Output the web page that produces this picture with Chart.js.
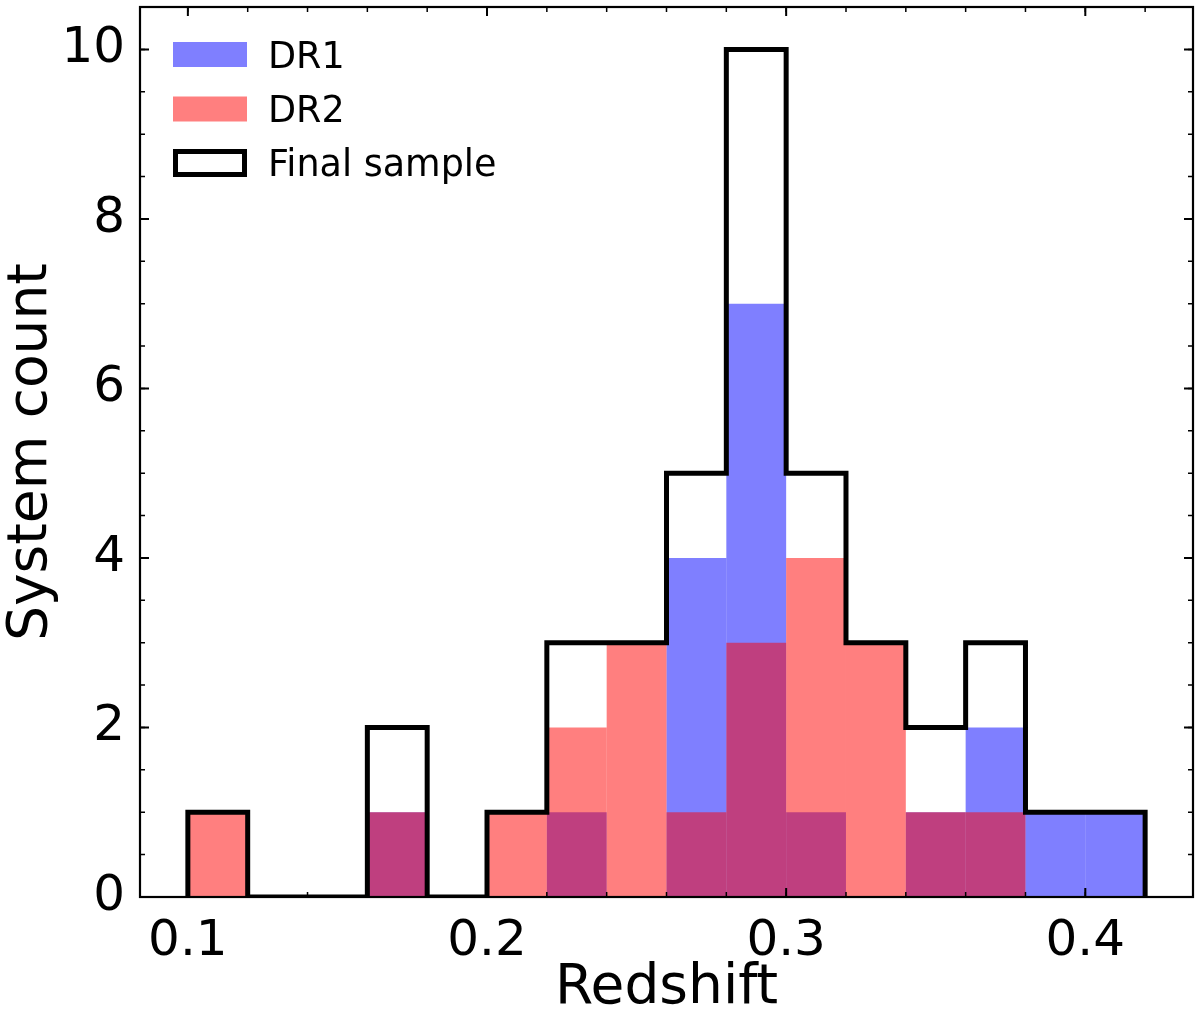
<!DOCTYPE html>
<html>
<head>
<meta charset="utf-8">
<title>Redshift histogram</title>
<script src="https://cdn.jsdelivr.net/npm/chart.js@4.4.0/dist/chart.umd.min.js"></script>
<style>
    html, body { margin: 0; padding: 0; background: #ffffff; }
    #wrap { width: 1200px; height: 1013px; position: relative; }
</style>
</head>
<body>
<div id="wrap"><canvas id="grafico"></canvas></div>
<script>
// Dados do histograma (bins de 0.02)
const binEdges = [0.10, 0.12, 0.14, 0.16, 0.18, 0.20, 0.22, 0.24, 0.26, 0.28, 0.30, 0.32, 0.34, 0.36, 0.38, 0.40, 0.42];
const dr1Counts = [0, 0, 0, 1, 0, 0, 1, 0, 4, 7, 1, 0, 1, 2, 1, 1];
const dr2Counts = [1, 0, 0, 1, 0, 1, 2, 3, 1, 3, 4, 3, 1, 1, 0, 0];
const finalCounts = [1, 0, 0, 2, 0, 1, 3, 3, 5, 10, 5, 3, 2, 3, 1, 1];
const xTicks = [0.1, 0.2, 0.3, 0.4];
const yTicks = [0, 2, 4, 6, 8, 10];
const legendLabels = ['DR1', 'DR2', 'Final sample'];

const corDR1 = 'rgba(0, 0, 255, 0.5)';
const corDR2 = 'rgba(255, 0, 0, 0.5)';
const fonte = "'DejaVu Sans', sans-serif";

// Barras: centro de cada bin
function barras(contagens) {
    const pts = [];
    for (let i = 0; i < contagens.length; i++) {
        pts.push({ x: (binEdges[i] + binEdges[i + 1]) / 2, y: contagens[i] });
    }
    return pts;
}

// Contorno em degraus (histtype='step')
function degraus(contagens) {
    const pts = [{ x: binEdges[0], y: 0 }];
    for (let i = 0; i < contagens.length; i++) {
        pts.push({ x: binEdges[i], y: contagens[i] });
        pts.push({ x: binEdges[i + 1], y: contagens[i] });
    }
    pts.push({ x: binEdges[binEdges.length - 1], y: 0 });
    return pts;
}

// Ticks para dentro nos quatro lados + moldura + legenda
const eixosPlugin = {
    id: 'eixos',
    afterDatasetsDraw(chart) {
        const ctx = chart.ctx;
        const a = chart.chartArea;
        const sx = chart.scales.x;
        const sy = chart.scales.y;
        ctx.save();
        ctx.strokeStyle = '#000';

        const tickX = (v, len, w) => {
            const p = sx.getPixelForValue(v);
            if (p < a.left || p > a.right) return;
            ctx.lineWidth = w;
            ctx.beginPath();
            ctx.moveTo(p, a.bottom); ctx.lineTo(p, a.bottom - len);
            ctx.moveTo(p, a.top); ctx.lineTo(p, a.top + len);
            ctx.stroke();
        };
        const tickY = (v, len, w) => {
            const p = sy.getPixelForValue(v);
            if (p < a.top - 0.5 || p > a.bottom + 0.5) return;
            ctx.lineWidth = w;
            ctx.beginPath();
            ctx.moveTo(a.left, p); ctx.lineTo(a.left + len, p);
            ctx.moveTo(a.right, p); ctx.lineTo(a.right - len, p);
            ctx.stroke();
        };

        // minor ticks
        for (let k = 4; k <= 22; k++) tickX(k * 0.02, 5, 1.5);
        for (let k = 0; k <= 21; k++) tickY(k * 0.5, 5, 1.5);
        // major ticks
        xTicks.forEach(v => tickX(v, 9, 2));
        yTicks.forEach(v => tickY(v, 9, 2));

        // moldura
        ctx.lineWidth = 2.2;
        ctx.strokeRect(a.left, a.top, a.right - a.left, a.bottom - a.top);

        // legenda
        const lx = a.left + 33;
        const tx = a.left + 128;
        const linhas = [a.top + 47.5, a.top + 102, a.top + 156];
        ctx.font = '36.5px ' + fonte;
        ctx.textAlign = 'left';
        ctx.textBaseline = 'alphabetic';
        ctx.fillStyle = corDR1;
        ctx.fillRect(lx, linhas[0] - 12.5, 74, 25);
        ctx.fillStyle = corDR2;
        ctx.fillRect(lx, linhas[1] - 12.5, 74, 25);
        ctx.lineWidth = 5;
        ctx.lineJoin = 'miter';
        ctx.strokeRect(lx + 2.5, linhas[2] - 11.5, 69, 23);
        ctx.fillStyle = '#000';
        legendLabels.forEach((t, i) => ctx.fillText(t, tx, linhas[i] + 13));
        ctx.restore();
    }
};

const ctx = document.getElementById('grafico').getContext('2d');
new Chart(ctx, {
    type: 'bar',
    data: {
        datasets: [
            {
                label: legendLabels[0],
                data: barras(dr1Counts),
                backgroundColor: corDR1,
                borderWidth: 0,
                inflateAmount: 0,
                grouped: false,
                barPercentage: 1,
                categoryPercentage: 1,
                order: 3
            },
            {
                label: legendLabels[1],
                data: barras(dr2Counts),
                backgroundColor: corDR2,
                borderWidth: 0,
                inflateAmount: 0,
                grouped: false,
                barPercentage: 1,
                categoryPercentage: 1,
                order: 2
            },
            {
                type: 'line',
                label: legendLabels[2],
                data: degraus(finalCounts),
                borderColor: '#000',
                borderWidth: 5,
                borderJoinStyle: 'miter',
                borderCapStyle: 'butt',
                fill: false,
                tension: 0,
                pointRadius: 0,
                clip: 0,
                order: 1
            }
        ]
    },
    options: {
        responsive: true,
        maintainAspectRatio: false,
        animation: false,
        layout: { padding: { top: 7, right: 7, left: 0, bottom: 0 } },
        plugins: {
            legend: { display: false },
            tooltip: { enabled: false }
        },
        scales: {
            x: {
                type: 'linear',
                min: 0.084,
                max: 0.436,
                offset: false,
                grid: { display: false },
                border: { display: false },
                afterBuildTicks: s => { s.ticks = xTicks.map(v => ({ value: v })); },
                afterFit: s => { s.height = 116; s.paddingLeft = 0; s.paddingRight = 0; },
                ticks: {
                    color: '#000',
                    padding: 7,
                    maxRotation: 0,
                    autoSkip: false,
                    font: { family: fonte, size: 50 },
                    callback: v => Number(v).toFixed(1)
                },
                title: {
                    display: true,
                    text: 'Redshift',
                    color: '#000',
                    font: { family: fonte, size: 55, lineHeight: 1 },
                    padding: { top: 0, bottom: -3 }
                }
            },
            y: {
                min: 0,
                max: 10.5,
                grid: { display: false },
                border: { display: false },
                afterBuildTicks: s => { s.ticks = yTicks.map(v => ({ value: v })); },
                afterFit: s => { s.width = 140; s.paddingTop = 0; s.paddingBottom = 0; },
                ticks: {
                    color: '#000',
                    padding: 7,
                    autoSkip: false,
                    font: { family: fonte, size: 50 },
                    callback: v => String(v)
                },
                title: {
                    display: true,
                    text: 'System count',
                    color: '#000',
                    font: { family: fonte, size: 55, lineHeight: 1 },
                    padding: { top: 4, bottom: 0 }
                }
            }
        }
    },
    plugins: [eixosPlugin]
});
</script>
</body>
</html>
